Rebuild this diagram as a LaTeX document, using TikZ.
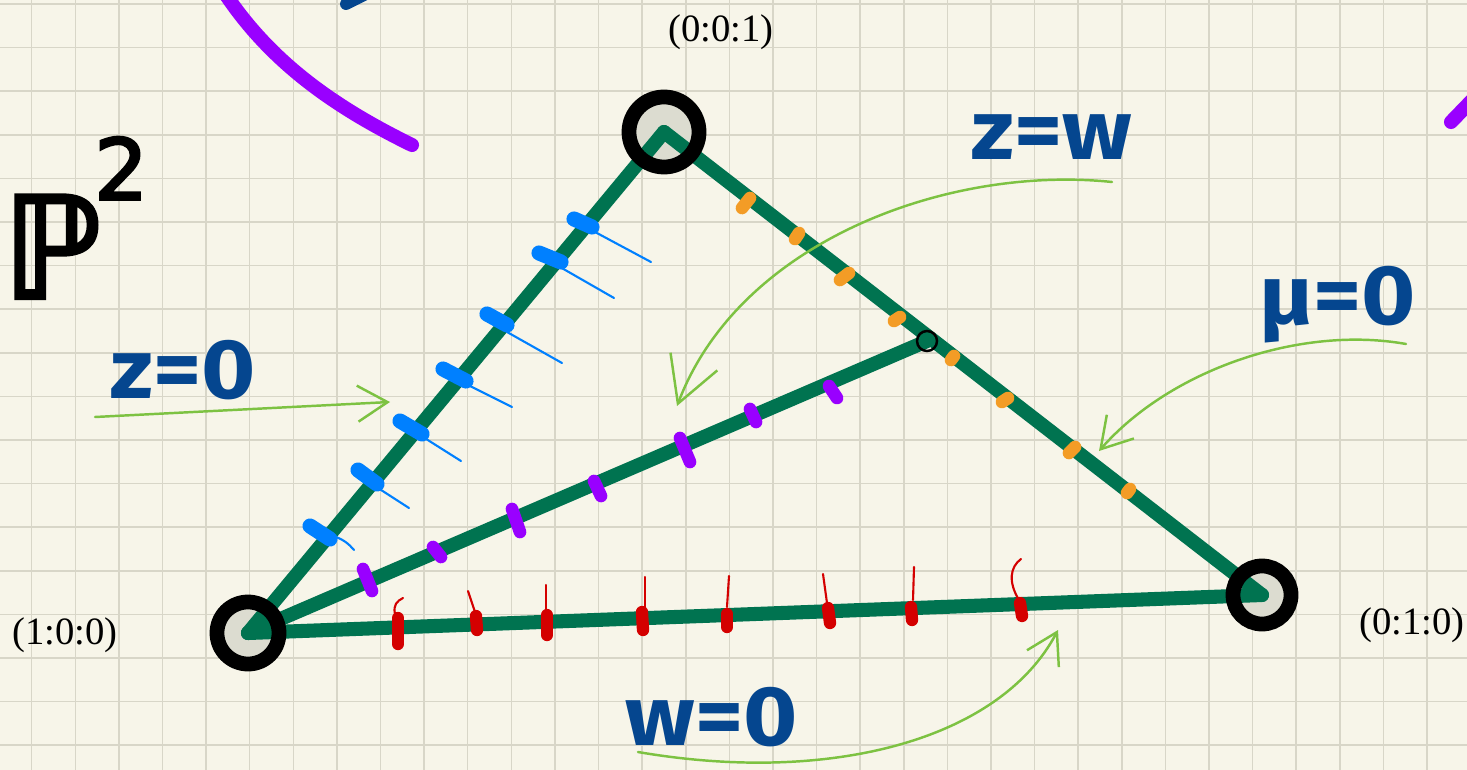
\documentclass[tikz,border=0pt]{standalone}
\usepackage{fontspec}
\setmainfont{Liberation Serif}
\newfontfamily\handfont{Fira Sans}
\newfontfamily\bbfont[FakeBold=3]{DejaVu Sans}
\usetikzlibrary{arrows.meta}

\definecolor{paper}{RGB}{247,245,233}
\definecolor{gridc}{RGB}{216,214,200}
\definecolor{edgec}{RGB}{0,115,80}
\definecolor{diskc}{RGB}{220,220,208}
\definecolor{handc}{RGB}{5,70,143}
\definecolor{bluec}{RGB}{0,128,255}
\definecolor{purplec}{RGB}{153,0,255}
\definecolor{orangec}{RGB}{243,156,38}
\definecolor{redc}{RGB}{212,0,0}
\definecolor{arrowc}{RGB}{125,194,66}

\begin{document}
\begin{tikzpicture}[
  x=0.01cm, y=-0.01cm,
  gridline/.style={draw=gridc, line width=0.45pt},
  edge/.style={draw=edgec, line width=4pt, line cap=round},
  vdisk/.style={circle, fill=diskc, inner sep=0pt},
  vring/.style={draw=black, line width=4.2pt},
  coord/.style={font=\fontsize{11}{13}\selectfont},
  hand/.style={text=handc, font=\handfont\bfseries\fontsize{24}{26}\selectfont, xscale=1.1},
  bmark/.style={draw=bluec, line width=4.3pt, line cap=round},
  bline/.style={draw=bluec, line width=0.6pt, line cap=round},
  pmark/.style={draw=purplec, line width=3.6pt, line cap=round},
  omark/.style={draw=orangec, line width=3.6pt, line cap=round},
  rmark/.style={draw=redc, line width=3.5pt, line cap=round},
  rline/.style={draw=redc, line width=0.6pt, line cap=round},
  arr/.style={draw=arrowc, line width=0.7pt, line cap=round,
              -{Straight Barb[length=0.3cm, width=0.36cm]}},
]
\useasboundingbox (0,0) rectangle (1467,770);
\fill[paper] (0,0) rectangle (1467,770);
\clip (0,0) rectangle (1467,770);
% grid paper
\foreach \i in {0,...,33}
  \draw[gridline] ({31.7+43.6*\i},0) -- ({31.7+43.6*\i},770);
\foreach \j in {0,...,17}
  \draw[gridline] (0,{4+43.6*\j}) -- (1467,{4+43.6*\j});

% leftover strokes at the edges
\draw[draw=purplec, line width=4pt, line cap=round]
  (226,-5) .. controls (270,60) and (330,105) .. (412,145);
\draw[draw=purplec, line width=4pt, line cap=round] (1451,122) -- (1480,92);
\draw[draw=handc, line width=3.4pt, line cap=round] (346,4) -- (366,-6);
\node[anchor=base west, inner sep=0pt, font=\bbfont\fontsize{40}{40}\selectfont]
  (ptwo) at (2,298) {ℙ\kern-2pt\raisebox{28pt}{\fontsize{24}{24}\selectfont 2}};

% vertices (fill first)
\node[vdisk, minimum size=0.62cm] (v100) at (248,633) {};
\node[vdisk, minimum size=0.70cm] (v001) at (664,132) {};
\node[vdisk, minimum size=0.58cm] (v010) at (1262,595) {};
\coordinate (q) at (927,341);

% triangle and the line to q
\draw[edge] (v100.center) -- (v001.center);
\draw[edge] (v001.center) -- (v010.center);
\draw[edge] (v100.center) -- (v010.center);
\draw[edge] (v100.center) -- (q);

% rings on top
\draw[vring] (v100.center) circle[radius=0.31cm];
\draw[vring] (v001.center) circle[radius=0.35cm];
\draw[vring] (v010.center) circle[radius=0.29cm];
\draw[black, line width=0.7pt] (q) circle[radius=0.1cm];

% z=0 side: blue marks
\foreach \xa/\ya/\xb/\yb in {574/219/592/227, 539/253/561/262, 487/314/507/325,
    443/369/466/381, 400/421/422/434, 358/470/377/484, 310/526/330/539}
  \draw[bmark] (\xa,\ya) -- (\xb,\yb);
\foreach \xa/\ya/\xb/\yb in {595/232/651/262, 560/267/614/298, 507/332/562/363,
    468/385/512/407, 423/437/461/461, 378/488/409/508}
  \draw[bline] (\xa,\ya) -- (\xb,\yb);
\draw[bline] (333,536) .. controls (343,539) and (349,544) .. (354,550);

% z=w line: purple marks
\foreach \xa/\ya/\xb/\yb in {363/569/372/591, 433/547/441/557, 512/509/520/532,
    594/481/601/496, 680/438/690/462, 750/409/756/422, 829/386/837/398}
  \draw[pmark] (\xa,\ya) -- (\xb,\yb);

% mu=0 side: orange marks
\foreach \xa/\ya/\xb/\yb in {742/208/750/198, 795/239/799/233, 840/280/849/273,
    894/321/900/317, 951/360/954/356, 1002/402/1008/398, 1069/453/1075/447,
    1127/493/1130/489}
  \draw[omark] (\xa,\ya) -- (\xb,\yb);

% w=0 side: red marks
\foreach \xa/\ya/\xb/\yb in {398/618/398/644, 476/616/477/630, 547/615/547/635,
    642/612/643/630, 727/614/727/627, 828/608/830/623, 911/607/912/620,
    1020/603/1022/616}
  \draw[rmark] (\xa,\ya) -- (\xb,\yb);
\foreach \xa/\ya/\xb/\yb in {475/612/468/591, 546/612/546/585, 645/607/645/577,
    727/607/729/576, 827/603/823/574, 913/600/914/567}
  \draw[rline] (\xa,\ya) -- (\xb,\yb);
\draw[rline] (395,614) .. controls (393,605) and (397,601) .. (403,598);
\draw[rline] (1019,600) .. controls (1008,582) and (1010,567) .. (1021,559);

% coordinates of the vertices
\node[coord] (l001) at (721,32) {(0:0:1)};
\node[coord] (l100) at (65,635) {(1:0:0)};
\node[coord] (l010) at (1412,625) {(0:1:0)};

% handwritten names
\node[hand] (zzero)  at (183,370) {z=0};
\node[hand] (zw)     at (1052,137) {z=w};
\node[hand] (muzero) at (1338,305) {μ=0};
\node[hand] (wzero)  at (712,717) {w=0};

% arrows
\coordinate (zzeroT) at (95,417);   \coordinate (zzeroH) at (390,402);
\coordinate (zwT)    at (1112,182); \coordinate (zwH)    at (677,406);
\coordinate (muT)    at (1406,344); \coordinate (muH)    at (1099,451);
\coordinate (wT)     at (638,752);  \coordinate (wH)     at (1058,630);
\draw[arr] (zzeroT) -- (zzeroH);
\draw[arr, -{Straight Barb[length=0.45cm, width=0.5cm]}]
  (zwT) .. controls (950,165) and (740,240) .. (zwH);
\draw[arr] (muT) .. controls (1300,325) and (1170,370) .. (muH);
\draw[arr] (wT) .. controls (830,785) and (1000,740) .. (wH);
\end{tikzpicture}
\end{document}
